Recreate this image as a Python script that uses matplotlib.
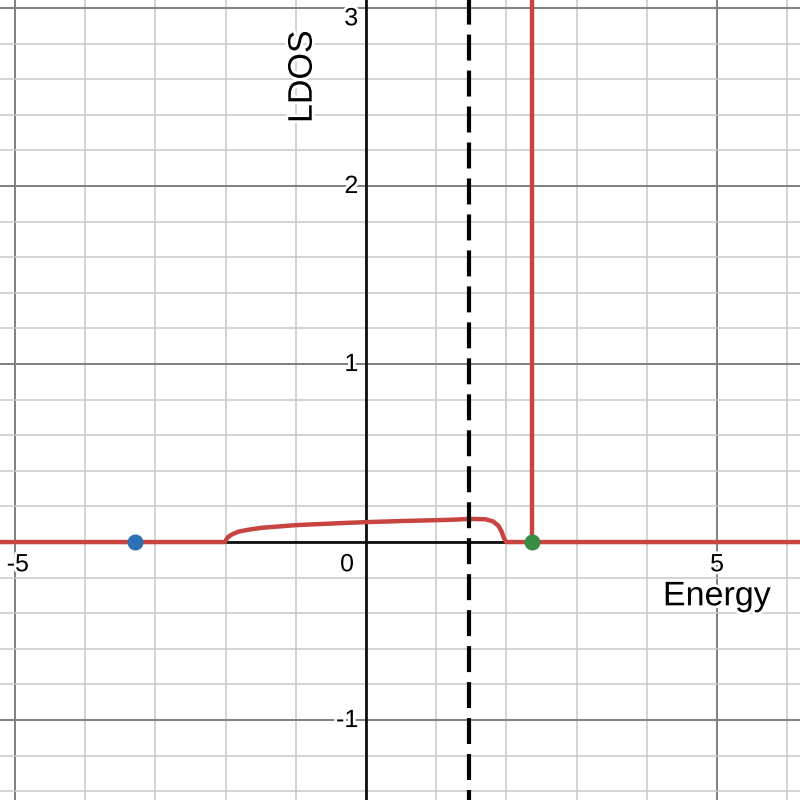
import matplotlib
matplotlib.use("Agg")
import matplotlib.pyplot as plt
import matplotlib.patheffects as pe
from matplotlib.ticker import MultipleLocator

# ---- data ----
energy = [-5.30, -2.01, -1.99, -1.96, -1.91, -1.82, -1.68, -1.49, -1.00, -0.44,
          0.00, 0.50, 0.91, 1.20, 1.48, 1.70, 1.81, 1.885, 1.93, 1.955, 1.98,
          2.00, 6.30]
ldos = [0.0, 0.0, 0.015, 0.030, 0.043, 0.058, 0.069, 0.080, 0.095, 0.105,
        0.112, 0.118, 0.122, 0.125, 0.130, 0.128, 0.116, 0.092, 0.060, 0.032,
        0.010, 0.0, 0.0]
bound_state_E = 2.36      # delta peak (red vertical line, green dot)
blue_point_E = -3.29      # blue dot on the axis
fermi_E = 1.47            # dashed vertical line

x_tick_values = [-5, 0, 5]
x_tick_labels = ["-5", "0", "5"]
y_tick_values = [-1, 1, 2, 3]
y_tick_labels = ["-1", "1", "2", "3"]

xlim = (-5.214, 6.182)
ylim = (-1.449, 3.045)

RED = "#c74440"
BLUE = "#2d70b3"
GREEN = "#388c46"

plt.rcParams["font.family"] = ["Liberation Sans", "DejaVu Sans"]
plt.rcParams["lines.scale_dashes"] = False

fig = plt.figure(figsize=(8, 8), dpi=100)
ax = fig.add_axes([0, 0, 1, 1])
ax.set_xlim(*xlim)
ax.set_ylim(*ylim)
for s in ax.spines.values():
    s.set_visible(False)

ax.xaxis.set_major_locator(MultipleLocator(5))
ax.xaxis.set_minor_locator(MultipleLocator(1))
ax.yaxis.set_major_locator(MultipleLocator(1))
ax.yaxis.set_minor_locator(MultipleLocator(0.2))
ax.grid(which="major", color="#7f7f7f", linewidth=1.4, zorder=0)
ax.grid(which="minor", color="#c8c8c8", linewidth=1.1, zorder=0)
ax.tick_params(which="both", length=0, labelbottom=False, labelleft=False)
ax.set_axisbelow(True)

# axes lines
ax.axhline(0, color="#111111", linewidth=2.0, zorder=1)
ax.axvline(0, color="#111111", linewidth=2.0, zorder=1)

halo = [pe.withStroke(linewidth=4, foreground="white")]

# tick labels
for v, lab in zip(x_tick_values, x_tick_labels):
    if v == 0:
        ax.text(v - 0.27, -0.125, lab, ha="center", va="center", fontsize=18,
                path_effects=halo, zorder=2)
    else:
        ax.text(v + (0.04 if v < 0 else 0), -0.125, lab, ha="center", va="center",
                fontsize=18, path_effects=halo, zorder=2)
for v, lab in zip(y_tick_values, y_tick_labels):
    yy = v if v < 3 else v - 0.058
    ax.text(-0.11, yy, lab, ha="right", va="center", fontsize=18,
            path_effects=halo, zorder=2)

# curve
ax.plot(energy, ldos, color=RED, linewidth=3.2, solid_capstyle="round",
        solid_joinstyle="round", zorder=3)
ax.vlines(bound_state_E, 0, ylim[1] + 1, color=RED, linewidth=3.2, zorder=3)

# dashed line
ax.axvline(fermi_E, color="black", linewidth=3.0, linestyle=(11.5, (18.7, 7.2)),
           zorder=4)

# points
ax.plot([blue_point_E], [0], "o", color=BLUE, markersize=10.5, zorder=5)
ax.plot([bound_state_E], [0], "o", color=GREEN, markersize=10.5, zorder=5)

# axis titles
ax.text(0.896, 0.254, "Energy", transform=ax.transAxes, ha="center", va="center",
        fontsize=24.5, path_effects=halo, zorder=2)
ax.text(0.379, 0.904, "LDOS", transform=ax.transAxes, ha="center", va="center",
        rotation=90, fontsize=24.5, path_effects=halo, zorder=2)

fig.savefig("out.png", dpi=100)
